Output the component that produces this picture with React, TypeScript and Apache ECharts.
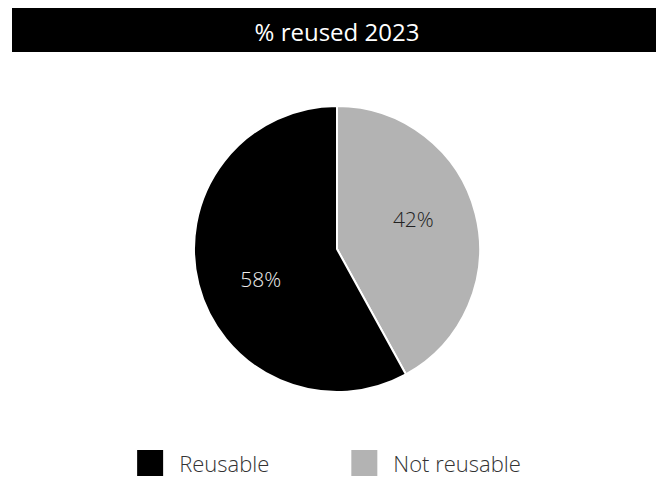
import React, { useEffect, useRef } from "react";
import * as echarts from "echarts";

const TITLE = "% reused 2023";
const categories = ["Not reusable", "Reusable"];
const values = [42, 58];
const colors = ["#b3b3b3", "#000000"];
const labelColors = ["#222222", "#eeeeee"];
const legendOrder = ["Reusable", "Not reusable"];

const FONT = "'Open Sans', Lato, sans-serif";

export default function App() {
  const ref = useRef<HTMLDivElement>(null);
  useEffect(() => {
    if (!ref.current) return;
    const chart = echarts.init(ref.current, undefined, { renderer: "svg" });
    chart.setOption({
      animation: false,
      backgroundColor: "#ffffff",
      graphic: [
        {
          type: "rect",
          shape: { x: 12, y: 8, width: 644, height: 44 },
          style: { fill: "#000000" },
          silent: true,
        },
        {
          type: "text",
          x: 337,
          y: 31,
          style: {
            text: TITLE,
            fill: "#ffffff",
            font: `500 24px ${FONT}`,
            textAlign: "center",
            textVerticalAlign: "middle",
          },
          silent: true,
        },
      ],
      legend: {
        data: legendOrder,
        top: 444,
        left: "center",
        padding: 4,
        itemWidth: 28,
        itemHeight: 28,
        itemGap: 80,
        icon: "rect",
        textStyle: {
          fontFamily: FONT,
          fontSize: 22,
          fontWeight: 300,
          lineHeight: 24,
          color: "#333333",
          padding: [0, 0, 0, 10],
        },
      },
      series: [
        {
          type: "pie",
          center: [337, 249],
          radius: [0, 143],
          startAngle: 90,
          clockwise: true,
          label: { show: false },
          labelLine: { show: false },
          itemStyle: { borderColor: "#ffffff", borderWidth: 2 },
          emphasis: { disabled: true },
          data: categories.map((c, i) => ({
            name: c,
            value: values[i],
            itemStyle: { color: colors[i] },
          })),
        },
        {
          type: "pie",
          center: [337, 249],
          radius: [0, 158],
          startAngle: 97,
          clockwise: true,
          silent: true,
          legendHoverLink: false,
          label: {
            show: true,
            position: "inside",
            formatter: "{d}%",
            fontFamily: FONT,
            fontSize: 21,
            fontWeight: 300,
            textBorderWidth: 0,
          },
          labelLine: { show: false },
          emphasis: { disabled: true },
          data: categories.map((c, i) => ({
            name: c,
            value: values[i],
            itemStyle: { color: "rgba(0,0,0,0)" },
            label: { color: labelColors[i] },
          })),
        },
      ],
    });
    return () => chart.dispose();
  }, []);
  return (
    <div
      ref={ref}
      style={{ position: "absolute", left: 0, top: 0, width: 656, height: 479 }}
    />
  );
}
